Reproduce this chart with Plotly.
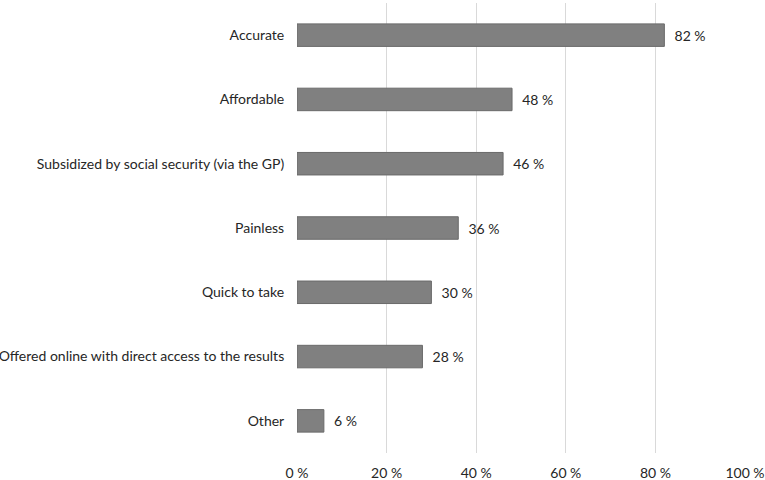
import plotly.graph_objects as go

categories = ["Accurate", "Affordable", "Subsidized by social security (via the GP)",
              "Painless", "Quick to take",
              "Offered online with direct access to the results", "Other"]
values = [82, 48, 46, 36, 30, 28, 6]
tick_vals = [0, 20, 40, 60, 80, 100]
tick_text = ["0 %", "20 %", "40 %", "60 %", "80 %", "100 %"]

font_family = "Lato, 'Open Sans', sans-serif"
text_color = "#262626"

fig = go.Figure(go.Bar(
    x=values,
    y=categories,
    orientation="h",
    marker=dict(color="#808080", line=dict(color="#6a6a6a", width=1)),
    text=[f"\u00a0\u00a0{v} %" for v in values],
    textposition="outside",
    textfont=dict(family=font_family, size=14, color=text_color),
    cliponaxis=False,
    width=0.35,
))

fig.update_layout(
    width=765, height=480,
    margin=dict(l=297, r=20, t=3, b=27),
    plot_bgcolor="white", paper_bgcolor="white",
    showlegend=False,
    font=dict(family=font_family, size=14, color=text_color),
)
fig.update_xaxes(
    range=[0, 100],
    tickvals=tick_vals, ticktext=tick_text,
    showgrid=True, gridcolor="#d9d9d9", gridwidth=1,
    zeroline=False, showline=False,
    ticks="outside", ticklen=7, tickcolor="rgba(0,0,0,0)",
    tickfont=dict(family=font_family, size=14, color=text_color),
    automargin=False,
    fixedrange=True,
)
fig.update_yaxes(
    autorange="reversed",
    showgrid=False, zeroline=False, showline=False,
    ticks="outside", ticklen=9, tickcolor="rgba(0,0,0,0)",
    tickfont=dict(family=font_family, size=14, color=text_color),
    automargin=False,
    fixedrange=True,
)

fig.write_html(
    "out.html",
    config={"displayModeBar": False},
    post_script="document.body.style.margin='0';document.body.style.overflow='hidden';",
)
